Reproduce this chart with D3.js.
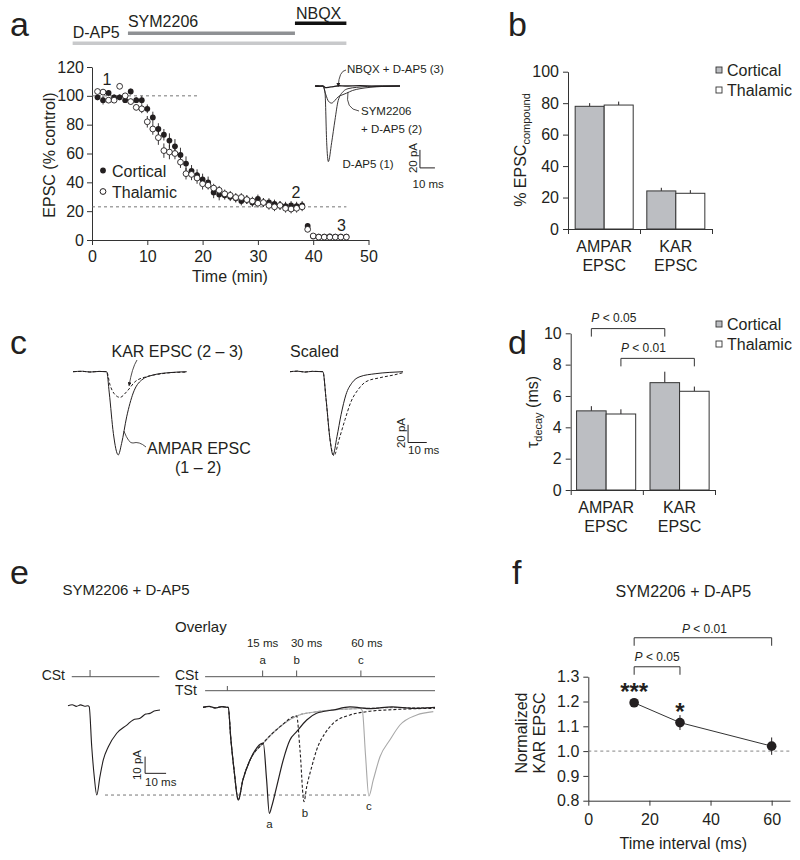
<!DOCTYPE html>
<html><head><meta charset="utf-8">
<script src="https://cdn.jsdelivr.net/npm/d3@7"></script>
<style>body{margin:0;background:#fff} svg{font-family:"Liberation Sans",Arial,Helvetica,sans-serif}</style>
</head><body><svg id="fig" width="800" height="860"></svg>
<script>
// ================= DATA =================
// Panel a: time course
const timeMin = [1,2,3,4,5,6,7,8,9,10,11,12,13,14,15,16,17,18,19,20,21,22,23,24,25,26,27,28,29,30,31,32,33,34,35,36,37,38,39,40,41,42,43,44,45,46];
const corticalPct = [99,97,102,99,99,97,103,97,97,91, 85,77,73,69,65,59,53,48,45,42, 40,33,31.5,31,30,29,27,28,26,28.5, 26,26,25,24,23.5,24,23.5,24,9.7,2.5, 2.3,2.3,2.5,2.3,2.3,2.3];
const corticalErr = [2,3,2,2,2,2,2,2,3,3, 4,4,4,5,5,5,5,4,4,4, 4,4,4,3,3,3,3,3,3,3, 3,3,3,3,3,3,3,3,2,1, 1,1,1,1,1,1];
const thalamicPct = [103,102.6,97,97,106.6,100,96,92,91,82, 77,71,62,61,60,54,46,45.5,43,39, 38,36,34.5,32,31,29.5,29.5,28,27,25.5, 26,24,23,24,22,21.5,22,23,7.4,2.8, 2,2,2,2,2,2];
const thalamicErr = [2,2,2,2,2,2,2,2,3,4, 4,5,5,5,4,4,4,4,4,4, 3,3,3,3,3,3,3,3,3,3, 3,3,3,3,3,3,3,3,2,1, 1,1,1,1,1,1];
const drugNames = ["D-AP5","SYM2206","NBQX"];
const drugStart = [-3.5, 6.5, 36.7];
const drugEnd = [46, 36.7, 46];
const aRefLevels = [100, 23];
const aRefEnd = [19.5, 46];
const aXTicks = [0,10,20,30,40,50];
const aYTicks = [0,20,40,60,80,100,120];
// Panel a inset traces [ms, pA]
const traceDAP5 = [[0,0],[2,0.4],[3.5,-0.3],[5.3,0],[6.7,-8],[7.8,-63],[8.9,-84],[11.1,-63],[13.3,-38],[15.5,-16],[18.9,-6],[22,-3],[27.8,-1.5],[35,-0.5],[45,0.2],[56.7,0]];
const traceSYM = [[0,0],[2,0.3],[5.3,0],[7.3,-10],[9,-17],[11.1,-19],[13.3,-16],[15.5,-12],[18,-10],[21,-8],[25,-5],[30,-3],[36.7,-1.5],[45,-0.5],[56.7,0]];
const traceNBQX = [[0,0],[2,-0.4],[5.3,0],[7,-1.8],[9,-1.5],[12,-0.6],[16,0.3],[20,0],[30,0.4],[40,-0.3],[56.7,0]];
// Panel b
const groups = ["AMPAR","KAR"];
const sources = ["Cortical","Thalamic"];
const bCortical = [78, 24.2];
const bCorticalErr = [2, 2];
const bThalamic = [78.8, 22.7];
const bThalamicErr = [2.2, 2];
const bYTicks = [0,20,40,60,80,100];
// Panel c traces [ms, pA]
const cAMPAR = [[0,0],[5,0.5],[9,-0.4],[14,0.3],[18,0],[19.4,-24],[21.6,-70],[24.2,-94],[26,-81],[28.7,-51],[32.2,-24],[36.7,-9.4],[42.9,-3.7],[51.9,-1],[60.8,0]];
const cKAR = [[0,0],[5,0.4],[9,-0.3],[14,0.3],[18,0],[19.8,-15],[22.5,-26],[25.1,-29],[28.7,-22.6],[33.2,-11.3],[39.4,-5.6],[46.5,-2.6],[53,-1],[60.8,-0.5]];
const cScaledAMPAR = [[0,0],[4,0.6],[8,-0.4],[12,0.4],[17.6,0],[19.3,-31.6],[21.4,-76.8],[23,-94],[25.1,-73.4],[27.3,-48.6],[29.9,-26],[33.2,-12.4],[37.4,-5.6],[45.5,-2.3],[53,-0.8],[60.4,0]];
const cScaledKAR = [[0,0],[4,0.6],[8,-0.4],[12,0.4],[17.6,0],[19.3,-31.6],[21.4,-76.8],[23.5,-95],[26.2,-76.8],[29.4,-54.2],[32.6,-33.9],[36.4,-20.3],[40.6,-11.3],[48.1,-6.8],[56.1,-3.4],[60.4,-1.1]];
// Panel d
const dCortical = [5.05, 6.85];
const dCorticalErr = [0.3, 0.7];
const dThalamic = [4.85, 6.3];
const dThalamicErr = [0.3, 0.3];
const dYTicks = [0,2,4,6,8,10];
// Panel e traces [ms, pA]
const eSingle = [[0,0],[2,0.6],[4,-0.4],[6,0.5],[8,-0.3],[9.5,0],[10.1,-0.6],[11.3,-24.6],[12.5,-42.5],[13.7,-53.5],[15.2,-42.5],[16.8,-32.5],[19.2,-24.6],[23.2,-16.5],[28,-11.6],[31,-8.5],[34.3,-7.5],[37,-5],[39,-4.6],[41,-3.2],[43.8,-2.6]];
const eControl = [[0,0],[3,0.5],[6,-0.4],[9,0.4],[11.7,0],[12,0],[13.3,-19.6],[14.8,-37.5],[16.8,-55.5],[19,-43.5],[22.4,-31.6],[28.7,-21.4],[36.7,-11.6],[44.6,-5.2],[53.3,-2.8],[62,-1.6],[74.8,-0.7],[90,-0.2],[110.5,-0.1]];
const eA = [[30.3,-43.5],[31.6,-63.5],[32.7,-59.5],[35.1,-47.5],[38.2,-31.6],[41.4,-19.6],[44.6,-14.6],[49.4,-7.6],[54.1,-3.6],[62,-1.6],[70,0.2],[80,-0.8],[90,0.3],[100,-0.6],[110.5,0]];
const eB = [[46.2,-25.5],[48.1,-56.5],[49.4,-47.5],[51.8,-35.6],[54.1,-25.6],[58.1,-15.6],[62,-9.6],[70,-4.6],[78,-2.6],[93.8,-1.2],[110.5,-0.6]];
const eC = [[75.9,-2],[77.4,-28.6],[79,-53.1],[81.1,-43.5],[84.3,-29.6],[89,-19.6],[93.8,-10.6],[101.8,-4.6],[109.7,-2.6]];
const eDropStart = [28.7, 44.6, 74.8];
const eStimLabels = ["a","b","c"];
const eIntervalLabels = ["15 ms","30 ms","60 ms"];
const eCStTimes = [28.4, 44.6, 75.2];
const eTStTime = [11.6];
const eLeftCStTime = [10.5];
// Panel f
const fInterval = [15, 30, 60];
const fNorm = [1.195, 1.115, 1.02];
const fErr = [0.01, 0.03, 0.035];
const fStars = ["***","*",""];
const fXTicks = [0,20,40,60];
const fYTicks = [0.8,0.9,1.0,1.1,1.2,1.3];

// ================= DRAW =================
const INK = "#231f20";
const GRAYBAR = "#bcbec2";
const svg = d3.select("#fig");
svg.append("rect").attr("width",800).attr("height",860).attr("fill","#fff");
const defs = svg.append("defs");
defs.append("marker").attr("id","arr").attr("viewBox","0 0 6 6").attr("refX",5).attr("refY",3)
  .attr("markerWidth",5).attr("markerHeight",5).attr("orient","auto")
  .append("path").attr("d","M0,0L6,3L0,6Z").attr("fill",INK);

function T(x,y,s,o={}){
  const t = svg.append("text").attr("x",x).attr("y",y).text(s)
    .attr("font-size",o.size||16).attr("fill",o.fill||INK)
    .attr("text-anchor",o.anchor||"start");
  if(o.weight) t.attr("font-weight",o.weight);
  if(o.style) t.attr("font-style",o.style);
  if(o.rot) t.attr("transform",`rotate(${o.rot},${x},${y})`);
  return t;
}
function styleAxis(g,size){
  g.attr("font-size",size||16).attr("font-family",null);
  g.selectAll("path,line").attr("stroke","#333").attr("stroke-width",1);
  g.selectAll("text").attr("fill",INK);
}
function lineGen(xs,ys){ return d3.line().x(d=>xs(d[0])).y(d=>ys(d[1])).curve(d3.curveMonotoneX); }
function trace(pts,xs,ys,o={}){
  const p = svg.append("path").attr("d",lineGen(xs,ys)(pts)).attr("fill","none")
    .attr("stroke",o.color||INK).attr("stroke-width",o.w||1);
  if(o.dash) p.attr("stroke-dasharray",o.dash);
  return p;
}
// panel letters
[["a",10,36],["b",508,36],["c",10,354],["d",508,354],["e",10,584],["f",512,584]].forEach(d=>T(d[1],d[2],d[0],{size:34}));

// ---------- Panel a ----------
const xA = d3.scaleLinear([0,50],[92,368.5]);
const yA = d3.scaleLinear([0,120],[240,67]);
const drugY = [43.3, 33.3, 23.3];
const drugCol = ["#c8c9cb","#8f9194","#111"];
const drugTextY = [38, 27, 19];
drugNames.forEach((n,i)=>{
  svg.append("line").attr("x1",xA(drugStart[i])).attr("x2",xA(drugEnd[i]))
    .attr("y1",drugY[i]).attr("y2",drugY[i]).attr("stroke",drugCol[i]).attr("stroke-width",3.5);
  T(xA(drugStart[i])+(i===2?1:0), drugTextY[i], n, {size:16});
});
svg.append("g").attr("transform","translate(0,240)")
  .call(d3.axisBottom(xA).tickValues(aXTicks).tickSize(5).tickPadding(6).tickSizeOuter(0))
  .call(g=>styleAxis(g));
svg.append("g").attr("transform","translate(92,0)")
  .call(d3.axisLeft(yA).tickValues(aYTicks).tickSize(5).tickPadding(3).tickSizeOuter(0))
  .call(g=>styleAxis(g));
aRefLevels.forEach((v,i)=>svg.append("line").attr("x1",xA(0)).attr("x2",xA(aRefEnd[i]))
  .attr("y1",yA(v)).attr("y2",yA(v)).attr("stroke","#666").attr("stroke-dasharray","3,3").attr("stroke-width",0.9));
T(230,282,"Time (min)",{anchor:"middle"});
T(55,155,"EPSC (% control)",{anchor:"middle",rot:-90});
function errs(vals,errsArr){
  timeMin.forEach((t,i)=>svg.append("line").attr("x1",xA(t)).attr("x2",xA(t))
    .attr("y1",yA(vals[i]-errsArr[i])).attr("y2",yA(vals[i]+errsArr[i])).attr("stroke",INK).attr("stroke-width",0.9));
}
errs(corticalPct,corticalErr); errs(thalamicPct,thalamicErr);
svg.append("g").selectAll("circle").data(timeMin).join("circle")
  .attr("cx",d=>xA(d)).attr("cy",(d,i)=>yA(corticalPct[i])).attr("r",2.9).attr("fill",INK);
svg.append("g").selectAll("circle").data(timeMin).join("circle")
  .attr("cx",d=>xA(d)).attr("cy",(d,i)=>yA(thalamicPct[i])).attr("r",2.9).attr("fill","#fff").attr("stroke",INK).attr("stroke-width",0.9);
svg.append("circle").attr("cx",103).attr("cy",170.5).attr("r",2.9).attr("fill",INK);
svg.append("circle").attr("cx",103).attr("cy",191.5).attr("r",2.9).attr("fill","#fff").attr("stroke",INK);
T(112,176.5,"Cortical"); T(112,197.5,"Thalamic");
T(107,85,"1",{anchor:"middle"}); T(296,198,"2",{anchor:"middle"}); T(341.5,231,"3",{anchor:"middle"});
// inset traces
const xAi = d3.scaleLinear([0,56.7],[315,400]);
const yAi = d3.scaleLinear([0,-100],[86,176]);
trace(traceDAP5,xAi,yAi,{w:0.9});
trace(traceSYM,xAi,yAi,{w:0.9});
trace(traceNBQX,xAi,yAi,{w:1.3});
T(347,73,"NBQX + D-AP5 (3)",{size:11.5});
T(361,115,"SYM2206",{size:11.5});
T(361,132.5,"+ D-AP5 (2)",{size:11.5});
T(342.5,168,"D-AP5 (1)",{size:11.5});
svg.append("path").attr("d",`M346,70 Q339,71 ${xAi(15.5)},${yAi(-1.5)-1}`).attr("fill","none").attr("stroke",INK).attr("stroke-width",0.8).attr("marker-end","url(#arr)");
svg.append("path").attr("d",`M359,111 Q345,109 ${xAi(22)},${yAi(-7)}`).attr("fill","none").attr("stroke",INK).attr("stroke-width",0.8);
// inset scale bar 20 pA / 10 ms
svg.append("path").attr("d",`M${xAi(70)},${yAi(-71)}V${yAi(-91)}H${xAi(80)}`).attr("fill","none").attr("stroke",INK).attr("stroke-width",1);
T(xAi(70)-3,158,"20 pA",{size:11.5,anchor:"middle",rot:-90});
T(xAi(75.5),188,"10 ms",{size:11.5,anchor:"middle"});

// ---------- bar chart helper ----------
function barPanel(cfg){
  const y = d3.scaleLinear(cfg.ydom,cfg.yr);
  const x0 = d3.scaleBand(groups,cfg.xr).paddingInner(cfg.pi).paddingOuter(cfg.po);
  const x1 = d3.scaleBand(sources,[0,x0.bandwidth()]);
  const vals = [cfg.cort,cfg.thal], er=[cfg.cortErr,cfg.thalErr];
  groups.forEach((g,gi)=>sources.forEach((s,si)=>{
    const xx = x0(g)+x1(s);
    svg.append("line").attr("x1",xx+x1.bandwidth()/2).attr("x2",xx+x1.bandwidth()/2)
      .attr("y1",y(vals[si][gi])).attr("y2",y(vals[si][gi]+er[si][gi])).attr("stroke",INK).attr("stroke-width",1);
    svg.append("rect").attr("x",xx).attr("width",x1.bandwidth()).attr("y",y(vals[si][gi]))
      .attr("height",y(0)-y(vals[si][gi])).attr("fill",si===0?GRAYBAR:"#fff").attr("stroke","#333").attr("stroke-width",1);
  }));
  svg.append("g").attr("transform",`translate(${cfg.xr[0]},0)`)
    .call(d3.axisLeft(y).tickValues(cfg.ticks).tickSize(5).tickPadding(4).tickSizeOuter(0))
    .call(g=>styleAxis(g));
  const c1 = x0("AMPAR")+x0.bandwidth()/2, c2 = x0("KAR")+x0.bandwidth()/2;
  const xt = [cfg.xr[0],(x0("AMPAR")+x0.bandwidth()+x0("KAR"))/2,cfg.xr[1]];
  svg.append("g").attr("transform",`translate(0,${cfg.yr[0]})`)
    .call(d3.axisBottom(d3.scaleLinear(cfg.xr,cfg.xr)).tickValues(xt).tickSize(5).tickFormat("").tickSizeOuter(0))
    .call(g=>styleAxis(g));
  T(c1,cfg.yr[0]+23,"AMPAR",{anchor:"middle"}); T(c1,cfg.yr[0]+42,"EPSC",{anchor:"middle"});
  T(c2,cfg.yr[0]+23,"KAR",{anchor:"middle"}); T(c2,cfg.yr[0]+42,"EPSC",{anchor:"middle"});
  const ly = cfg.legY;
  sources.forEach((s,si)=>{
    svg.append("rect").attr("x",716).attr("y",ly+si*20-3).attr("width",6).attr("height",6)
      .attr("fill",si===0?GRAYBAR:"#fff").attr("stroke","#333").attr("stroke-width",0.9);
    T(727,ly+si*20+5.5,s);
  });
  return {x0,x1,y};
}
const pb = barPanel({ydom:[0,100],yr:[229,71.7],xr:[568,712],pi:0.19,po:0.1,cort:bCortical,thal:bThalamic,cortErr:bCorticalErr,thalErr:bThalamicErr,ticks:bYTicks,legY:70});
const tb = svg.append("text").attr("transform","translate(526,150) rotate(-90)").attr("text-anchor","middle").attr("font-size",16).attr("fill",INK);
tb.append("tspan").text("% EPSC");
tb.append("tspan").text("compound").attr("font-size",11).attr("dy",4);

const pd = barPanel({ydom:[0,10],yr:[490,333.3],xr:[570.7,715],pi:0.195,po:0.08,cort:dCortical,thal:dThalamic,cortErr:dCorticalErr,thalErr:dThalamicErr,ticks:dYTicks,legY:324});
const td = svg.append("text").attr("transform","translate(538,412) rotate(-90)").attr("text-anchor","middle").attr("font-size",16).attr("fill",INK);
td.append("tspan").text("τ");
td.append("tspan").text("decay").attr("font-size",11).attr("dy",4);
td.append("tspan").text(" (ms)").attr("dy",-4);
function bracket(x1,x2,yTop,leg){
  svg.append("path").attr("d",`M${x1},${yTop+leg}V${yTop}H${x2}V${yTop+leg}`).attr("fill","none").attr("stroke","#333").attr("stroke-width",1);
}
function ptext(x,y,s,anchor){
  const t = svg.append("text").attr("x",x).attr("y",y).attr("font-size",12).attr("fill",INK).attr("text-anchor",anchor||"start");
  t.append("tspan").text("P").attr("font-style","italic");
  t.append("tspan").text(" < "+s);
}
{
  const cx = (g,s)=>pd.x0(g)+pd.x1(s)+pd.x1.bandwidth()/2;
  bracket(cx("AMPAR","Cortical"),cx("KAR","Cortical"),pd.y(10.3),8);
  ptext(cx("AMPAR","Cortical"),322,"0.05");
  bracket(cx("AMPAR","Thalamic"),cx("KAR","Thalamic"),pd.y(8.4),8);
  ptext(cx("AMPAR","Thalamic"),352,"0.01");
}

// ---------- Panel c ----------
const xCl = d3.scaleLinear([0,60.8],[73,186.7]);
const xCr = d3.scaleLinear([0,60.4],[290,403]);
const yC = d3.scaleLinear([0,-100],[371.7,460.2]);
trace(cKAR,xCl,yC,{dash:"3,2"});
trace(cAMPAR,xCl,yC);
trace(cScaledKAR,xCr,yC,{dash:"3,2"});
trace(cScaledAMPAR,xCr,yC);
T(111.5,356.5,"KAR EPSC (2 – 3)");
T(147,454,"AMPAR EPSC");
T(175,473,"(1 – 2)");
T(290,356.5,"Scaled");
svg.append("path").attr("d",`M137,360 Q132,368 ${xCl(30)},${yC(-18)-2}`).attr("fill","none").attr("stroke",INK).attr("stroke-width",0.8).attr("marker-end","url(#arr)");
svg.append("path").attr("d",`M146,447 Q139,441 133,443 Q129,444 ${xCl(27.2)},${yC(-67)}`).attr("fill","none").attr("stroke",INK).attr("stroke-width",0.8);
svg.append("path").attr("d",`M${xCr(63.1)},${yC(-60)}V${yC(-80)}H${xCr(73.1)}`).attr("fill","none").attr("stroke",INK).attr("stroke-width",1);
T(xCr(63.1)-3,433,"20 pA",{size:11.5,anchor:"middle",rot:-90});
T(xCr(63.1),453.5,"10 ms",{size:11.5});

// ---------- Panel e ----------
const xEl = d3.scaleLinear([0,43.8],[68,160]);
const yEl = d3.scaleLinear([0,-60],[705.7,805.9]);
const xEr = d3.scaleLinear([0,110.5],[203,435]);
const yEr = d3.scaleLinear([0,-60],[707.3,807.5]);
T(62.5,595,"SYM2206 + D-AP5",{size:15});
T(175,631.5,"Overlay",{size:15});
T(65,679.5,"CSt",{size:14,anchor:"end"});
T(175,679.5,"CSt",{size:14});
T(175,694.5,"TSt",{size:14});
const stimCol = "#555";
svg.append("line").attr("x1",xEl(1.8)).attr("x2",xEl(43.5)).attr("y1",676.7).attr("y2",676.7).attr("stroke",stimCol).attr("stroke-width",1);
eLeftCStTime.forEach(t=>svg.append("line").attr("x1",xEl(t)).attr("x2",xEl(t)).attr("y1",676.7).attr("y2",670).attr("stroke",stimCol));
svg.append("line").attr("x1",xEr(1)).attr("x2",xEr(110.5)).attr("y1",676.7).attr("y2",676.7).attr("stroke",stimCol).attr("stroke-width",1);
svg.append("line").attr("x1",xEr(1)).attr("x2",xEr(110.5)).attr("y1",690.7).attr("y2",690.7).attr("stroke",stimCol).attr("stroke-width",1);
const intOff = [0, 10, 6];
eCStTimes.forEach((t,i)=>{
  svg.append("line").attr("x1",xEr(t)).attr("x2",xEr(t)).attr("y1",676.7).attr("y2",670.5).attr("stroke",stimCol);
  T(xEr(t),664,eStimLabels[i],{size:11.5,anchor:"middle"});
  T(xEr(t)+intOff[i],647,eIntervalLabels[i],{size:11.5,anchor:"middle"});
});
eTStTime.forEach(t=>svg.append("line").attr("x1",xEr(t)).attr("x2",xEr(t)).attr("y1",690.7).attr("y2",686).attr("stroke",stimCol));
svg.append("line").attr("x1",105).attr("x2",368).attr("y1",yEl(-53.5)).attr("y2",yEl(-53.5)).attr("stroke","#666").attr("stroke-dasharray","3,3").attr("stroke-width",0.9);
trace(eSingle,xEl,yEl,{w:1.1});
svg.append("path").attr("d",`M${xEl(36.7)},${yEl(-30.5)}V${yEl(-40.5)}H${xEl(46.7)}`).attr("fill","none").attr("stroke",INK).attr("stroke-width",1);
T(xEl(36.7)-4,765,"10 pA",{size:11.5,anchor:"middle",rot:-90});
T(xEl(36.7),786,"10 ms",{size:11.5});
const upTo = t => eControl.filter(d=>d[0]<=t);
trace(upTo(110.5),xEr,yEr,{color:"#8a8a8a",w:1.1,dash:"3,1.5"});
trace(upTo(eDropStart[2]).concat(eC),xEr,yEr,{color:"#a8a8a8",w:1.1});
trace(upTo(eDropStart[1]).concat(eB),xEr,yEr,{color:INK,w:1.1,dash:"3,2"});
trace(upTo(eDropStart[0]).concat(eA),xEr,yEr,{color:INK,w:1.2});
T(xEr(31.6),828,"a",{size:11.5,anchor:"middle"});
T(xEr(48.6),817,"b",{size:11.5,anchor:"middle"});
T(xEr(79),810,"c",{size:11.5,anchor:"middle"});

// ---------- Panel f ----------
const xF = d3.scaleLinear([0,66],[588.3,790]);
const yF = d3.scaleLinear([0.8,1.3],[800.7,676.7]);
T(683.3,597,"SYM2206 + D-AP5",{anchor:"middle"});
svg.append("g").attr("transform","translate(0,800.7)")
  .call(d3.axisBottom(xF).tickValues(fXTicks).tickSize(5).tickPadding(8).tickSizeOuter(0))
  .call(g=>styleAxis(g));
svg.append("g").attr("transform","translate(588.3,0)")
  .call(d3.axisLeft(yF).tickValues(fYTicks).tickFormat(d3.format(".1f")).tickSize(5).tickPadding(4).tickSizeOuter(0))
  .call(g=>styleAxis(g));
svg.append("line").attr("x1",xF(0)).attr("x2",xF(66)).attr("y1",yF(1)).attr("y2",yF(1)).attr("stroke","#777").attr("stroke-dasharray","3,3").attr("stroke-width",0.9);
T(683.3,849,"Time interval (ms)",{anchor:"middle"});
T(527,733,"Normalized",{anchor:"middle",rot:-90});
T(545,733,"KAR EPSC",{anchor:"middle",rot:-90});
svg.append("path").attr("d",d3.line().x(d=>xF(d)).y((d,i)=>yF(fNorm[i]))(fInterval)).attr("fill","none").attr("stroke","#333").attr("stroke-width",1);
fInterval.forEach((t,i)=>{
  svg.append("line").attr("x1",xF(t)).attr("x2",xF(t)).attr("y1",yF(fNorm[i]-fErr[i])).attr("y2",yF(fNorm[i]+fErr[i])).attr("stroke",INK).attr("stroke-width",1);
  svg.append("circle").attr("cx",xF(t)).attr("cy",yF(fNorm[i])).attr("r",4.8).attr("fill",INK);
  if(fStars[i]) T(xF(t),yF(fNorm[i])-3,fStars[i],{size:24,anchor:"middle",weight:"bold"});
});
bracket(xF(fInterval[0]),xF(fInterval[2]),yF(1.457),8);
ptext(xF(38),632.5,"0.01","middle");
bracket(xF(fInterval[0]),xF(fInterval[1]),yF(1.34),8);
ptext(xF(22.5),661,"0.05","middle");
</script></body></html>
